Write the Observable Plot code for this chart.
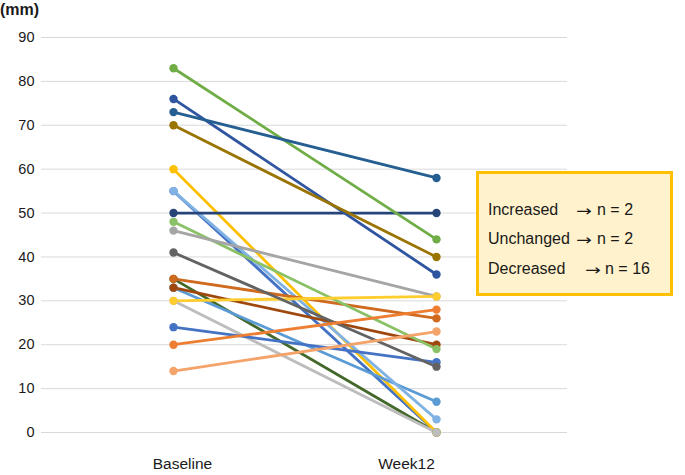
<!DOCTYPE html>
<html>
<head>
<meta charset="utf-8">
<script src="https://cdn.jsdelivr.net/npm/d3@7"></script>
<script src="https://cdn.jsdelivr.net/npm/@observablehq/plot@0.6"></script>
<style>
  html, body { margin: 0; padding: 0; background: #fff; }
  #wrap { position: relative; width: 685px; height: 475px; font-family: "Liberation Sans", Arial, sans-serif; color: #1a1a1a; }
  #unit { position: absolute; left: 0px; top: 0px; font-size: 16px; font-weight: bold; line-height: 20px; }
  #legend { position: absolute; left: 476px; top: 171px; width: 197px; height: 125px; box-sizing: border-box;
            background: #FFF2CC; border: 3px solid #FFC000; }
  .row { position: absolute; left: 9px; font-size: 16px; white-space: nowrap; height: 20px; }
  .row span { position: absolute; top: 0; }
  .row span.arrow { font-family: "DejaVu Sans", sans-serif; font-size: 15px; transform: scaleX(1.25); transform-origin: left center; top: 1px; }
</style>
</head>
<body>
<div id="wrap">
  <div id="chart"></div>
  <div id="unit">(mm)</div>
  <div id="legend"></div>
</div>
<script>
const timepoints = ["Baseline", "Week12"];
const baseline = [55, 35, 60, 33, 30, 55, 35, 33, 48, 46, 30, 24, 41, 20, 14, 50, 83, 76, 73, 70];
const week12   = [ 0,  0,  0,  7,  0,  3, 26, 20, 19, 31, 31, 16, 15, 28, 23, 50, 44, 36, 58, 40];
const colors = ["#4472C4", "#43682B", "#FFC000", "#5B9BD5", "#BDBDBD", "#80B3E3", "#CF6A1F", "#9E480E",
                "#8BC166", "#A5A5A5", "#FFCD2E", "#4472C4", "#636363", "#ED7D31", "#F4A36B", "#264478",
                "#70AD47", "#2F55A0", "#255E91", "#9A7400"];
const yTicks = [0, 10, 20, 30, 40, 50, 60, 70, 80, 90];
const legendCategories = ["Increased", "Unchanged", "Decreased"];
const legendCounts = [2, 2, 16];

const rows = [];
baseline.forEach((b, i) => {
  rows.push({id: i, time: timepoints[0], value: b, color: colors[i]});
  rows.push({id: i, time: timepoints[1], value: week12[i], color: colors[i]});
});

const chart = Plot.plot({
  width: 685,
  height: 475,
  marginLeft: 41,
  marginRight: 118,
  marginTop: 37,
  marginBottom: 43,
  style: {fontFamily: "'Liberation Sans', Arial, sans-serif", fontSize: "14.5px", color: "#1a1a1a", background: "#fff"},
  x: {type: "point", domain: timepoints, padding: 0.5, label: null},
  y: {domain: [0, 90], label: null},
  color: {type: "identity"},
  marks: [
    Plot.gridY(yTicks, {stroke: "#D9D9D9", strokeOpacity: 1, strokeWidth: 1}),
    Plot.axisY(yTicks, {tickSize: 0, tickPadding: 7, label: null}),
    Plot.axisX([timepoints[0]], {tickSize: 0, tickPadding: 25, label: null, fontSize: "15.5px", dx: 9}),
    Plot.axisX([timepoints[1]], {tickSize: 0, tickPadding: 25, label: null, fontSize: "15.5px", dx: -30}),
    Plot.line(rows, {x: "time", y: "value", z: "id", stroke: "color", strokeWidth: 2.8}),
    Plot.dot(rows, {x: "time", y: "value", fill: "color", r: 4.2, stroke: "none"})
  ]
});
document.getElementById("chart").appendChild(chart);

const legend = document.getElementById("legend");
const rowTops = [27, 56, 86];
const arrowLeft = [88, 88, 97];
const countLeft = [109, 109, 117];
legendCategories.forEach((c, i) => {
  const r = document.createElement("div");
  r.className = "row";
  r.style.top = rowTops[i] + "px";
  const a = document.createElement("span");
  a.style.left = "0px";
  a.textContent = c;
  const ar = document.createElement("span");
  ar.className = "arrow";
  ar.style.left = arrowLeft[i] + "px";
  ar.textContent = "\u2192";
  const b = document.createElement("span");
  b.style.left = countLeft[i] + "px";
  b.textContent = "n = " + legendCounts[i];
  r.appendChild(a); r.appendChild(ar); r.appendChild(b);
  legend.appendChild(r);
});
</script>
</body>
</html>
